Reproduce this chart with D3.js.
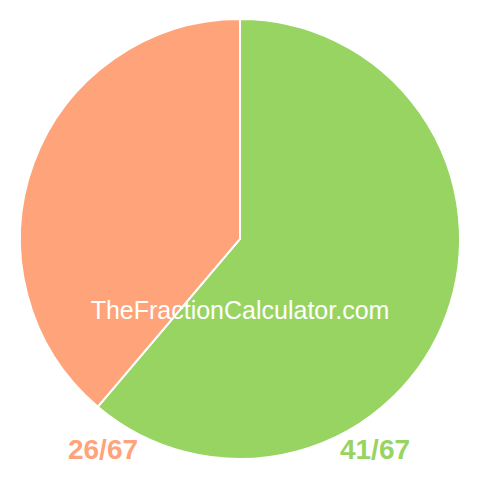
<!DOCTYPE html>
<html lang="en">
	<head>
		<meta charset="utf-8">
		<title>Fraction pie</title>
		<script type="text/javascript" src="https://d3js.org/d3.v7.min.js"></script>
		<style type="text/css">
			body{ margin:0; background:#fff; }
			text{ font-family:"Liberation Sans", Arial, sans-serif; }
		</style>
	</head>
	<body>
		<script type="text/javascript">

			var w = 480;
			var h = 480;

			// slices, clockwise from 12 o'clock
			var labels = ["41/67", "26/67"];
			var values = [41, 26];
			var colors = ["#98d462", "#ffa47a"];
			var labelX = [375, 103];

			var svg = d3.select("body")
						.append("svg")
						.attr("width", w)
						.attr("height", h);

			var pie = d3.pie().sort(null);
			var arc = d3.arc().innerRadius(0).outerRadius(220);

			var g = svg.append("g")
						.attr("transform", "translate(240,239)");

			g.selectAll("path")
				.data(pie(values))
				.enter()
				.append("path")
				.attr("d", arc)
				.style("fill", function(d, i){ return colors[i]; })
				.style("stroke", "#fff")
				.style("stroke-width", 2);

			// watermark
			svg.append("text")
				.attr("x", 240)
				.attr("y", 319)
				.attr("text-anchor", "middle")
				.style("font-size", "25px")
				.style("fill", "#fff")
				.text("TheFractionCalculator.com");

			svg.selectAll("text.lbl")
				.data(labels)
				.enter()
				.append("text")
				.attr("class", "lbl")
				.attr("x", function(d, i){ return labelX[i]; })
				.attr("y", 459)
				.attr("text-anchor", "middle")
				.style("font-size", "28px")
				.style("font-weight", "bold")
				.style("fill", function(d, i){ return colors[i]; })
				.text(function(d){ return d; });

		</script>
	</body>
</html>
